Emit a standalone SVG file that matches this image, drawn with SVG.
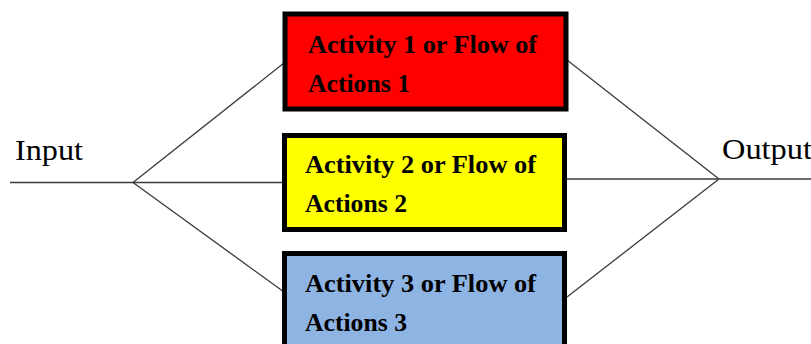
<svg xmlns="http://www.w3.org/2000/svg" width="811" height="344" viewBox="0 0 811 344">
<style>
.ln{stroke:#3a3a3a;stroke-width:1.3;fill:none}
.box{stroke:#000;stroke-width:5}
.bt{font-family:"Liberation Serif","DejaVu Serif",serif;font-weight:bold;font-size:25.5px;fill:#000}
.lt{font-family:"Liberation Serif","DejaVu Serif",serif;font-size:30px;fill:#000}
</style>
<rect width="811" height="344" fill="#fff"/>
<g id="connectors">
<line class="ln" x1="10" y1="182.5" x2="133" y2="182.5"/>
<line class="ln" x1="133" y1="182.5" x2="284" y2="182.5"/>
<line class="ln" x1="133" y1="182.5" x2="284" y2="63"/>
<line class="ln" x1="133" y1="182.5" x2="284" y2="292"/>
<line class="ln" x1="567" y1="179" x2="811" y2="179"/>
<line class="ln" x1="567" y1="60" x2="719" y2="179"/>
<line class="ln" x1="567" y1="297" x2="719" y2="179"/>
</g>
<g id="input"><text class="lt" x="15" y="160" textLength="68" lengthAdjust="spacingAndGlyphs">Input</text></g>
<g id="output"><text class="lt" x="722" y="159" textLength="90" lengthAdjust="spacingAndGlyphs">Output</text></g>
<g id="activity1">
<rect class="box" x="285" y="14" width="281" height="95" fill="#ff0000"/>
<text class="bt" x="308" y="53" textLength="229" lengthAdjust="spacingAndGlyphs">Activity 1 or Flow of</text>
<text class="bt" x="308" y="92" textLength="102" lengthAdjust="spacingAndGlyphs">Actions 1</text>
</g>
<g id="activity2">
<rect class="box" x="284.5" y="135.5" width="280" height="94" fill="#ffff00"/>
<text class="bt" x="305" y="173" textLength="231" lengthAdjust="spacingAndGlyphs">Activity 2 or Flow of</text>
<text class="bt" x="305" y="212" textLength="102" lengthAdjust="spacingAndGlyphs">Actions 2</text>
</g>
<g id="activity3">
<rect class="box" x="284.5" y="253.5" width="280" height="94" fill="#8eb4e3"/>
<text class="bt" x="305" y="292" textLength="231" lengthAdjust="spacingAndGlyphs">Activity 3 or Flow of</text>
<text class="bt" x="305" y="331" textLength="102" lengthAdjust="spacingAndGlyphs">Actions 3</text>
</g>
</svg>
